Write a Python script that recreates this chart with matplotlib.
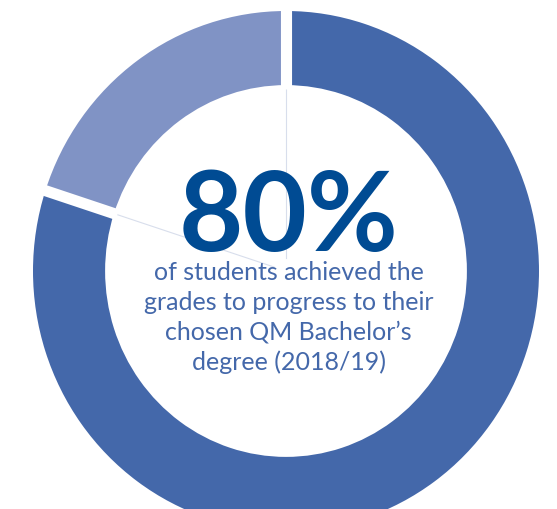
import numpy as np
import matplotlib
matplotlib.use("Agg")
import matplotlib.pyplot as plt

# Data
labels = ["Did not progress", "Progressed"]
shares = [20, 80]
colors = ["#8093C5", "#4468AA"]
headline = "80%"
caption = "of students achieved the\ngrades to progress to their\nchosen QM Bachelor\u2019s\ndegree (2018/19)"

fig = plt.figure(figsize=(5.57, 5.10), dpi=100)
ax = fig.add_axes([0, 0, 1, 1])

ring_width = 0.285
wedges, _ = ax.pie(shares, colors=colors, startangle=90, counterclock=True,
                   radius=1.0, wedgeprops=dict(width=ring_width, linewidth=0))

# picture is slightly stretched vertically; keep that look
ax.set_aspect("auto")
ax.set_xlim(-286 / 253, (557 - 286) / 253)
ax.set_ylim(-238 / 260, (510 - 238) / 260)
ax.axis("off")

# white gaps and faint spokes at the wedge boundaries
bounds = np.cumsum([0] + shares)[:-1] / 100 * 360 + 90
inner = 1.0 - ring_width
for ang in bounds:
    t = np.deg2rad(ang)
    c, s = np.cos(t), np.sin(t)
    ax.plot([inner * 0.98 * c, 1.02 * c], [inner * 0.98 * s, 1.02 * s],
            color="white", lw=8, solid_capstyle="butt", zorder=3)
    ax.plot([0.05 * c, inner * c], [0.05 * s, inner * s],
            color="#D8DEEC", lw=0.8, zorder=2)

ax.text(0.01, 0.205, headline, ha="center", va="center", fontsize=80,
        fontweight="bold", family="Lato", color="#004B93", zorder=5)
ax.text(0.01, -0.175, caption, ha="center", va="center", fontsize=18,
        family="Lato", color="#4468AA", linespacing=1.36, zorder=5)

fig.savefig("out.png", dpi=100)
